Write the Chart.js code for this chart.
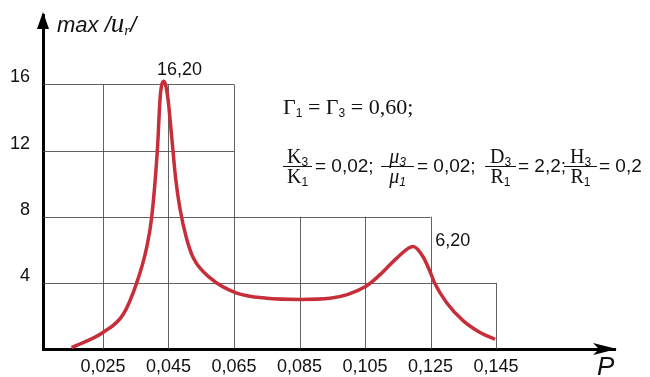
<!DOCTYPE html>
<html>
<head>
<meta charset="utf-8">
<script src="https://cdn.jsdelivr.net/npm/chart.js@4/dist/chart.umd.min.js"></script>
<style>
  html, body { margin: 0; padding: 0; background: #fff; }
  #wrap { position: relative; width: 650px; height: 377px; overflow: hidden; }
  #c { position: absolute; left: 0; top: 0; }
  .t { position: absolute; color: #111; white-space: nowrap; }
  .sans { font-family: "Liberation Sans", Arial, sans-serif; }
  .serif { font-family: "Liberation Serif", "Times New Roman", serif; }
  .frac { position: absolute; top: 146px; text-align: center; font-family: "Liberation Serif", serif; font-size: 20px; color: #111; }
  .frac .num { height: 20px; line-height: 20px; border-bottom: 1px solid #111; }
  .frac .den { height: 19px; line-height: 19px; }
  .frac sub, .g sub { font-family: "Liberation Sans", Arial, sans-serif; font-size: 12px; vertical-align: -3px; }
  .eq { top: 155px; font-size: 19px; }
</style>
</head>
<body>
<div id="wrap">
  <canvas id="c" width="650" height="377"></canvas>
  <div class="t sans" style="left:57px;top:8px;font-size:22px;font-style:italic;">max /<span class="serif" style="font-size:27px;">u</span><sub style="font-size:15px;vertical-align:-3px;" class="serif">r</sub>/</div>
  <div class="t sans" style="left:597px;top:351px;font-size:26px;font-style:italic;">P</div>

  <div class="t serif g" style="left:283px;top:94px;font-size:22px;">Γ<sub>1</sub> = Γ<sub>3</sub> = 0,60;</div>

  <div class="frac" style="left:283px;width:29px;"><div class="num">K<sub>3</sub></div><div class="den">K<sub>1</sub></div></div>
  <div class="t sans eq" style="left:315px;">= 0,02;</div>
  <div class="frac" style="left:381px;width:33px;font-style:italic;"><div class="num">μ<sub>3</sub></div><div class="den">μ<sub>1</sub></div></div>
  <div class="t sans eq" style="left:417px;">= 0,02;</div>
  <div class="frac" style="left:485px;width:31px;"><div class="num">D<sub>3</sub></div><div class="den">R<sub>1</sub></div></div>
  <div class="t sans eq" style="left:518px;">= 2,2;</div>
  <div class="frac" style="left:564px;width:33px;"><div class="num">H<sub>3</sub></div><div class="den">R<sub>1</sub></div></div>
  <div class="t sans eq" style="left:599px;">= 0,2</div>
</div>
<script>
// curve
const pValues = [0.0154, 0.025, 0.0312, 0.0353, 0.0383, 0.0399, 0.0416, 0.0425, 0.0436, 0.0448, 0.046, 0.0472, 0.0485, 0.0505, 0.0526, 0.0577, 0.0656, 0.075, 0.0852, 0.0943, 0.1053, 0.1096, 0.1147, 0.1197, 0.1228, 0.1251, 0.1262, 0.1299, 0.135, 0.1401, 0.1447];
const uValues = [0.08, 1.0, 2.1, 4.0, 6.1, 8.0, 12.0, 15.3, 16.2, 15.2, 12.8, 10.3, 8.5, 6.7, 5.5, 4.3, 3.4, 3.07, 3.0, 3.07, 3.8, 4.5, 5.5, 6.2, 5.55, 4.55, 4.0, 2.8, 1.7, 1.0, 0.59];

const xTicks = [0.025, 0.045, 0.065, 0.085, 0.105, 0.125, 0.145];
const yTicks = [4, 8, 12, 16];

// how far each grid line reaches (staircase grid)
const hGridEnd = [0.145, 0.125, 0.065, 0.065];   // for yTicks
const vGridEnd = [16, 16, 16, 8, 8, 8, 4];        // for xTicks

const peakP = [0.0436, 0.1197];
const peakText = ["16,20", "6,20"];

Chart.defaults.font.family = '"Liberation Sans", Arial, sans-serif';
Chart.defaults.color = "#111";

const fmt = (v) => v.toFixed(3).replace(".", ",");

const stairGrid = {
  id: "stairGrid",
  beforeDatasetsDraw(chart) {
    const { ctx, scales: { x, y } } = chart;
    ctx.save();
    ctx.strokeStyle = "rgba(70,70,70,0.85)";
    ctx.lineWidth = 1;
    ctx.beginPath();
    yTicks.forEach((v, i) => {
      const py = Math.round(y.getPixelForValue(v)) + 0.5;
      ctx.moveTo(x.left, py);
      ctx.lineTo(x.getPixelForValue(hGridEnd[i]), py);
    });
    xTicks.forEach((v, i) => {
      const px = Math.round(x.getPixelForValue(v)) + 0.5;
      ctx.moveTo(px, y.bottom);
      ctx.lineTo(px, y.getPixelForValue(vGridEnd[i]));
    });
    ctx.stroke();
    ctx.restore();
  },
  afterDraw(chart) {
    const { ctx, scales: { x, y } } = chart;
    ctx.save();
    ctx.fillStyle = "#000";
    // arrow heads
    const ax = x.left, ay = y.top;
    ctx.beginPath();
    ctx.moveTo(ax, ay - 3);
    ctx.lineTo(ax - 6, ay + 14);
    ctx.lineTo(ax + 6, ay + 14);
    ctx.closePath();
    ctx.fill();
    const bx = x.right, by = y.bottom;
    ctx.beginPath();
    ctx.moveTo(bx + 2, by);
    ctx.lineTo(bx - 22, by - 6);
    ctx.lineTo(bx - 16, by);
    ctx.lineTo(bx - 22, by + 6);
    ctx.closePath();
    ctx.fill();

    // peak labels
    const offs = [[-7, -11], [22, -5]];
    ctx.font = '18px "Liberation Sans", Arial, sans-serif';
    ctx.textAlign = "left";
    ctx.textBaseline = "middle";
    ctx.fillStyle = "#111";
    peakP.forEach((p, i) => {
      const k = pValues.indexOf(p);
      const px = x.getPixelForValue(p);
      const py = y.getPixelForValue(uValues[k]);
      ctx.fillText(peakText[i], px + offs[i][0], py + offs[i][1]);
    });
    ctx.restore();
  }
};

new Chart(document.getElementById("c"), {
  type: "line",
  data: {
    datasets: [{
      data: pValues.map((p, i) => ({ x: p, y: uValues[i] })),
      borderColor: "#c62f39",
      borderWidth: 3.5,
      pointRadius: 0,
      cubicInterpolationMode: "monotone",
      fill: false
    }]
  },
  options: {
    responsive: false,
    animation: false,
    layout: { padding: { top: 15, right: 35, left: 0, bottom: 0 } },
    plugins: { legend: { display: false }, tooltip: { enabled: false }, title: { display: false } },
    scales: {
      x: {
        type: "linear",
        min: 0.0067,
        max: 0.1813,
        afterFit: (s) => { s.height = 28; s.paddingLeft = 0; s.paddingRight = 0; },
        afterBuildTicks: (s) => { s.ticks = xTicks.map((v) => ({ value: v })); },
        grid: { display: false, drawTicks: false },
        border: { display: true, color: "#000", width: 3 },
        ticks: {
          autoSkip: false, maxRotation: 0, padding: 7,
          font: { size: 18 },
          callback: (v) => fmt(v)
        }
      },
      y: {
        min: 0,
        max: 20.2,
        afterFit: (s) => { s.width = 43; s.paddingTop = 0; s.paddingBottom = 0; },
        afterBuildTicks: (s) => { s.ticks = yTicks.map((v) => ({ value: v })); },
        grid: { display: false, drawTicks: false },
        border: { display: true, color: "#000", width: 3 },
        ticks: { padding: 13, labelOffset: -7, font: { size: 18 } }
      }
    }
  },
  plugins: [stairGrid]
});
</script>
</body>
</html>
